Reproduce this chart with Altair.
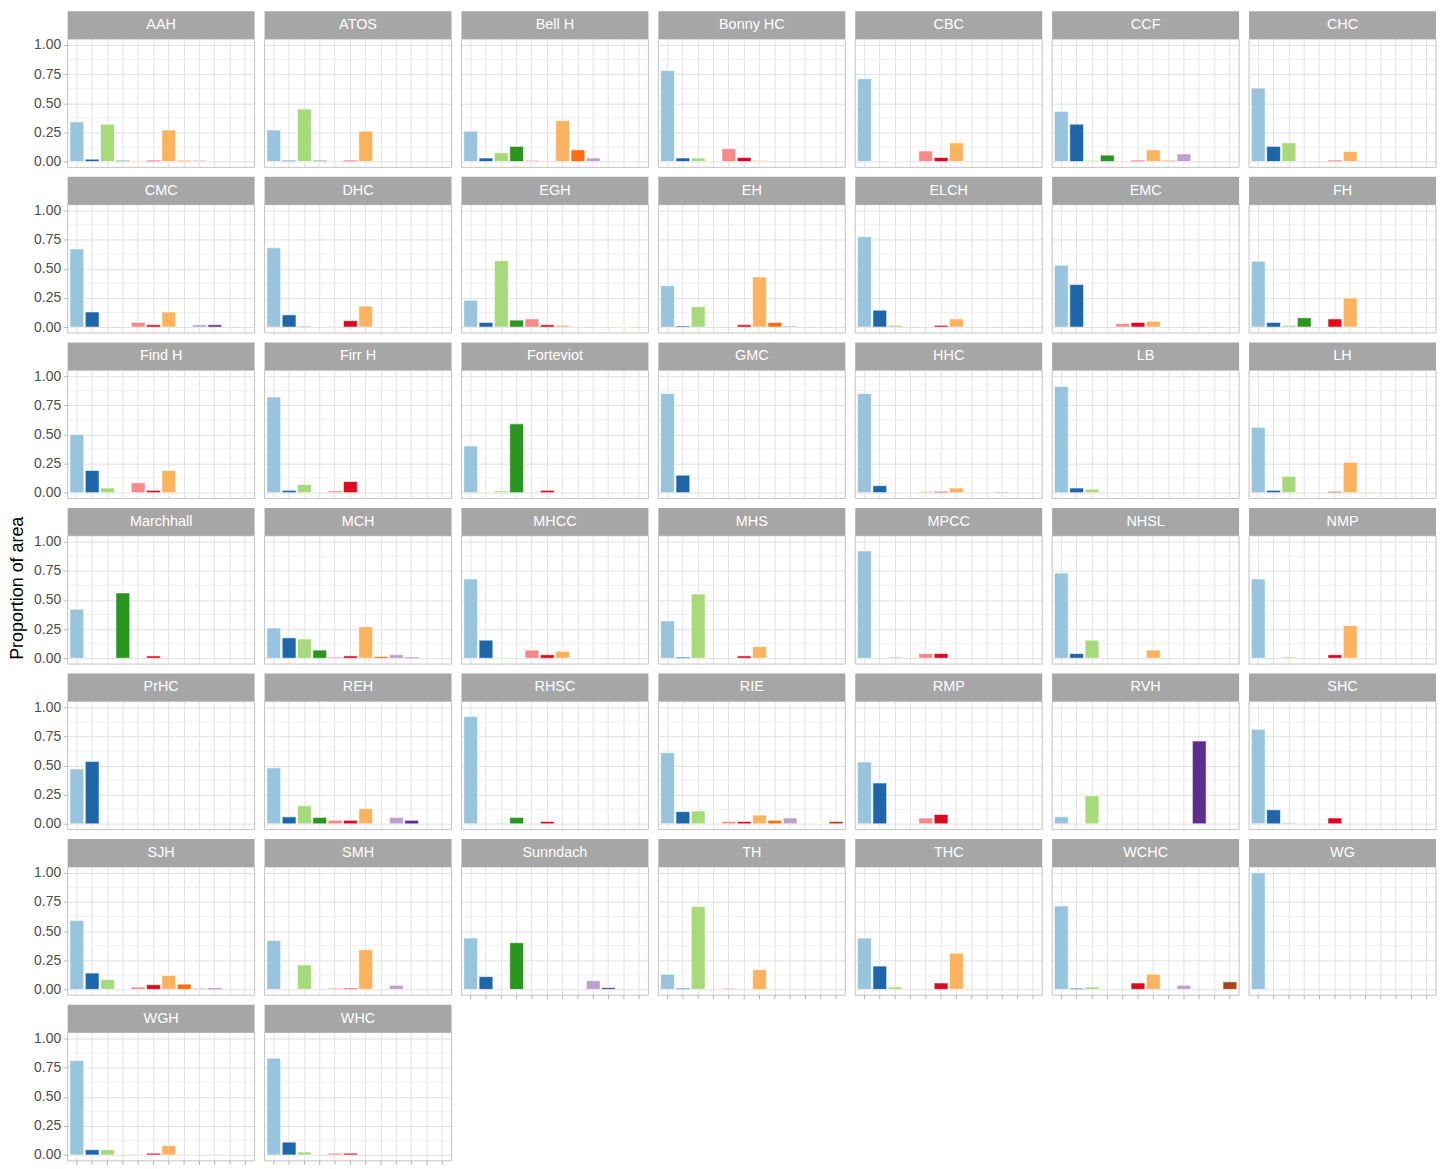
import altair as alt
import pandas as pd

SITES = ["AAH", "ATOS", "Bell H", "Bonny HC", "CBC", "CCF", "CHC",
         "CMC", "DHC", "EGH", "EH", "ELCH", "EMC", "FH",
         "Find H", "Firr H", "Forteviot", "GMC", "HHC", "LB", "LH",
         "Marchhall", "MCH", "MHCC", "MHS", "MPCC", "NHSL", "NMP",
         "PrHC", "REH", "RHSC", "RIE", "RMP", "RVH", "SHC",
         "SJH", "SMH", "Sunndach", "TH", "THC", "WCHC", "WG",
         "WGH", "WHC"]

# panels that sit at the bottom of their column (carry the x ticks)
BOTTOM_SITES = ["Sunndach", "TH", "THC", "WCHC", "WG", "WGH", "WHC"]

CATS = ["c01", "c02", "c03", "c04", "c05", "c06",
        "c07", "c08", "c09", "c10", "c11", "c12"]

PALETTE = ["#98C4DD", "#1F66A8", "#A6DA7A", "#2C9421", "#F8898B", "#DC0A1E",
           "#FCB360", "#FD6D10", "#BCA1CD", "#5F2D8E", "#FFFF99", "#A5461F"]

MAJOR = [0, 0.25, 0.5, 0.75, 1.0]
MINOR = [0.125, 0.375, 0.625, 0.875]

c01 = [.34, .27, .26, .78, .71, .43, .63,
       .67, .68, .23, .355, .775, .53, .565,
       .50, .82, .40, .85, .85, .91, .56,
       .42, .26, .68, .32, .92, .73, .68,
       .47, .48, .92, .61, .53, .06, .81,
       .59, .42, .44, .13, .44, .715, 1.0,
       .81, .83]
c02 = [.02, .01, .03, .03, 0, .32, .13,
       .13, .105, .04, .01, .145, .365, .04,
       .19, .02, 0, .15, .06, .04, .02,
       0, .175, .155, .01, 0, .04, 0,
       .535, .06, 0, .105, .35, 0, .12,
       .14, 0, .11, .01, .20, .01, 0,
       .045, .11]
c03 = [.32, .45, .075, .03, .005, .01, .16,
       0, .01, .57, .175, .015, 0, .015,
       .04, .07, .015, 0, 0, .03, .14,
       0, .165, .005, .55, .01, .155, .01,
       0, .155, .008, .11, 0, .24, .01,
       .085, .21, 0, .71, .02, .02, 0,
       .045, .025]
c04 = [.01, .01, .13, 0, 0, .055, 0,
       0, 0, .06, 0, 0, 0, .08,
       0, 0, .59, 0, 0, 0, 0,
       .56, .07, 0, 0, 0, 0, 0,
       0, .055, .055, 0, 0, 0, 0,
       0, 0, .40, 0, 0, 0, 0,
       0, 0]
c05 = [.005, .005, .01, .11, .09, 0, 0,
       .04, .005, .07, 0, 0, .03, 0,
       .085, .015, 0, 0, .01, 0, 0,
       0, .01, .07, 0, .04, 0, 0,
       0, .03, 0, .02, .05, 0, 0,
       .02, .01, 0, .01, 0, 0, 0,
       .005, .015]
c06 = [.01, .01, 0, .035, .035, .01, .01,
       .02, .055, .02, .02, .015, .04, .07,
       .02, .095, .02, 0, .01, 0, .01,
       .02, .02, .03, .02, .04, 0, .03,
       0, .03, .02, .02, .08, 0, .05,
       .04, .01, 0, 0, .055, .055, 0,
       .015, .015]
c07 = [.27, .26, .35, .01, .16, .10, .085,
       .13, .18, .015, .43, .07, .05, .25,
       .19, 0, 0, 0, .04, 0, .26,
       0, .27, .06, .10, 0, .07, .28,
       0, .13, 0, .075, 0, 0, 0,
       .12, .34, 0, .17, .31, .13, 0,
       .08, 0]
c08 = [.01, 0, .10, 0, 0, .01, 0,
       0, 0, 0, .04, 0, 0, 0,
       0, 0, 0, 0, 0, 0, .005,
       0, .015, 0, 0, 0, 0, 0,
       0, 0, 0, .03, 0, 0, 0,
       .045, 0, 0, 0, 0, 0, 0,
       .003, 0]
c09 = [.01, 0, .03, 0, 0, .065, 0,
       .02, 0, 0, .01, 0, 0, 0,
       0, 0, 0, 0, 0, 0, 0,
       0, .03, 0, 0, 0, 0, 0,
       0, .055, 0, .05, 0, 0, 0,
       .01, .035, .075, 0, 0, .035, 0,
       0, 0]
c10 = [0, 0, 0, 0, 0, 0, 0,
       .02, 0, 0, 0, 0, 0, 0,
       0, 0, 0, 0, .005, 0, 0,
       0, .008, 0, 0, 0, 0, 0,
       0, .03, 0, 0, 0, .71, 0,
       .01, 0, .015, 0, 0, 0, 0,
       .003, 0]
c11 = [0, 0, 0, 0, 0, 0, 0,
       0, 0, .01, 0, 0, 0, 0,
       0, 0, 0, 0, 0, 0, 0,
       0, 0, 0, 0, 0, 0, 0,
       0, 0, 0, .01, 0, 0, 0,
       0, 0, 0, 0, 0, 0, 0,
       0, 0]
c12 = [0, 0, 0, 0, 0, 0, 0,
       0, 0, 0, 0, 0, 0, 0,
       0, 0, 0, 0, 0, 0, 0,
       0, 0, 0, 0, 0, 0, 0,
       0, 0, 0, .02, 0, 0, 0,
       0, 0, 0, 0, 0, .065, 0,
       0, 0]

SERIES = [c01, c02, c03, c04, c05, c06, c07, c08, c09, c10, c11, c12]

rows = []
for cat, vals in zip(CATS, SERIES):
    for site, v in zip(SITES, vals):
        if v > 0:
            rows.append({"site": site, "cover": cat, "prop": v})
df = pd.DataFrame(rows)

PW = 188          # panel width
PLOT_H = 129      # plot area height (below strip)
STRIP_H = 28      # strip height
PH = PLOT_H + STRIP_H
Y_LO, Y_HI = -0.05, 1.05
UNIT = PLOT_H / (Y_HI - Y_LO)
STRIP_TOP = Y_HI + STRIP_H / UNIT
STRIP_MID = Y_HI + STRIP_H / UNIT / 2

FONT = "Liberation Sans"

xscale = alt.Scale(domain=CATS, paddingInner=0.1, paddingOuter=0.15)
yscale = alt.Scale(domain=[Y_LO, STRIP_TOP], nice=False, zero=False)

X_AXIS = alt.Axis(labels=False, title=None, domain=False, ticks=False,
                  grid=True, gridColor="#E3E3E3", bandPosition=0.5)
Y_AXIS = alt.Axis(values=MAJOR, format=".2f", labelOverlap=False, title=None,
                  domain=False, tickSize=4, labelPadding=3,
                  tickColor="#B3B3B3", gridColor="#E0E0E0",
                  labelFont=FONT, labelFontSize=14, labelColor="#4D4D4D")

base = alt.Chart()
one_per_panel = "datum.cover == 'c01'"

minor = base.transform_filter(one_per_panel).transform_calculate(
    m=str(MINOR)
).transform_flatten(["m"]).mark_rule(color="#F0F0F0", strokeWidth=1).encode(
    x=alt.value(0), x2=alt.value(PW),
    y=alt.Y("m:Q", scale=yscale, axis=Y_AXIS, title=None),
)

bars = base.mark_bar(stroke="white", strokeWidth=0.6).encode(
    x=alt.X("cover:N", scale=xscale, axis=X_AXIS, title=None),
    y=alt.Y("prop:Q", scale=yscale, axis=Y_AXIS, title=None),
    y2=alt.Y2Datum(0),
    color=alt.Color("cover:N", scale=alt.Scale(domain=CATS, range=PALETTE), legend=None),
)

border = base.transform_filter(one_per_panel).mark_rect(
    fill="transparent", stroke="#C4C4C4", strokeWidth=1
).encode(
    x=alt.value(0), x2=alt.value(PW),
    y=alt.YDatum(Y_LO, axis=Y_AXIS, title=None), y2=alt.Y2Datum(Y_HI),
)

xticks = base.transform_filter(
    alt.FieldOneOfPredicate(field="site", oneOf=BOTTOM_SITES)
).transform_filter(one_per_panel).transform_calculate(
    tc=str(CATS)
).transform_flatten(["tc"]).mark_rule(color="#B3B3B3", strokeWidth=1).encode(
    x=alt.X("tc:N", scale=xscale, axis=X_AXIS, title=None),
    y=alt.YDatum(Y_LO, axis=Y_AXIS, title=None),
    y2=alt.value(PH + 4),
)

strip = base.transform_filter(one_per_panel).mark_rect(
    fill="#A6A6A6"
).encode(
    x=alt.value(0), x2=alt.value(PW),
    y=alt.YDatum(Y_HI, axis=Y_AXIS, title=None), y2=alt.Y2Datum(STRIP_TOP),
)

label = base.transform_filter(one_per_panel).mark_text(
    color="white", font=FONT, fontSize=14.5, baseline="middle", align="center"
).encode(
    x=alt.value(PW / 2),
    y=alt.YDatum(STRIP_MID, axis=Y_AXIS, title=None),
    text=alt.Text("site:N"),
)

layered = alt.layer(minor, bars, border, xticks, strip, label, data=df).properties(
    width=PW, height=PH)

chart = layered.facet(
    facet=alt.Facet("site:N", sort=SITES, title=None,
                    header=alt.Header(labels=False, title=None, labelExpr="''",
                                      labelFontSize=0, labelPadding=0)),
    columns=7,
    spacing={"row": 9.5, "column": 10},
    bounds="flush",
).properties(
    padding=0,
    title=alt.TitleParams("Proportion of area", orient="left", anchor="middle",
                          font=FONT, fontSize=18, fontWeight="normal",
                          color="#000000", offset=7),
).configure_view(
    stroke=None
).configure_axis(
    labelFont=FONT
).configure_header(
    labels=False, title=None, labelFontSize=0, labelPadding=0
).configure_headerFacet(
    labels=False, title=None, labelFontSize=0, labelPadding=0
)

chart.save("out.html", embed_options={"renderer": "svg", "actions": False})
